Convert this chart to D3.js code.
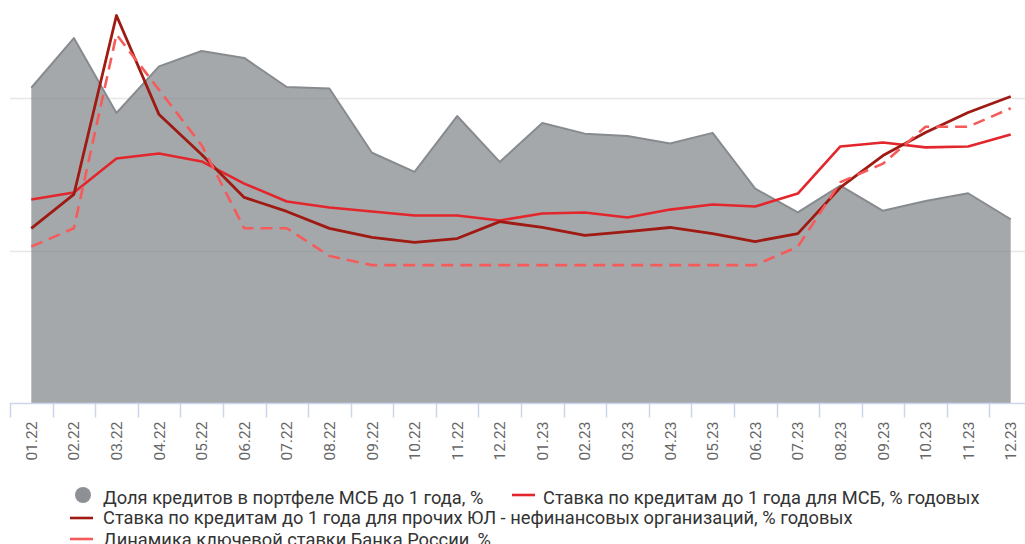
<!DOCTYPE html>
<html>
<head>
<meta charset="utf-8">
<script src="https://cdn.jsdelivr.net/npm/d3@7"></script>
<style>
  html, body { margin: 0; padding: 0; background: #fff; }
  svg { display: block; font-family: Roboto, "Noto Sans", sans-serif; }
</style>
</head>
<body>
<svg id="chart" width="1025" height="544"></svg>
<script>
// Months (MM.YY)
const months = ["01.22","02.22","03.22","04.22","05.22","06.22","07.22","08.22","09.22","10.22","11.22","12.22",
                "01.23","02.23","03.23","04.23","05.23","06.23","07.23","08.23","09.23","10.23","11.23","12.23"];

// Share of loans up to 1 year in the SME portfolio, %
const shareShort = [41.3, 47.8, 38.0, 44.1, 46.1, 45.2, 41.4, 41.2, 32.8, 30.3, 37.6, 31.6,
                    36.7, 35.3, 35.0, 34.0, 35.4, 28.1, 25.0, 28.5, 25.2, 26.5, 27.5, 24.1];

// Rate on loans up to 1 year for SMEs, % p.a.
const rateSme = [11.06, 11.44, 13.28, 13.55, 13.12, 11.92, 10.95, 10.62, 10.41, 10.19, 10.19, 9.92,
                 10.30, 10.35, 10.08, 10.51, 10.79, 10.68, 11.38, 13.93, 14.15, 13.88, 13.93, 14.58];

// Rate on loans up to 1 year for other non-financial legal entities, % p.a.
const rateOther = [9.49, 11.33, 21.03, 15.66, 13.50, 11.17, 10.41, 9.49, 9.00, 8.73, 8.94, 9.86,
                   9.54, 9.11, 9.32, 9.54, 9.21, 8.78, 9.21, 11.71, 13.44, 14.69, 15.77, 16.64];

// Bank of Russia key rate, %
const keyRate = [8.5, 9.5, 20, 17, 14, 9.5, 9.5, 8, 7.5, 7.5, 7.5, 7.5,
                 7.5, 7.5, 7.5, 7.5, 7.5, 7.5, 8.5, 12, 13, 15, 15, 16];

// Gridline values on the share axis
const shareGrid = [20, 40];

const legendLabels = [
  "Доля кредитов в портфеле МСБ до 1 года, %",
  "Ставка по кредитам до 1 года для МСБ, % годовых",
  "Ставка по кредитам до 1 года для прочих ЮЛ - нефинансовых организаций, % годовых",
  "Динамика ключевой ставки Банка России, %"
];

const colors = {
  area: "#878b8f",
  sme: "#e2262c",
  other: "#9e1a12",
  key: "#f65b5b",
  grid: "#e6e6e6",
  axis: "#ccd6eb"
};

const svg = d3.select("#chart");
const baseY = 403.5;

const x = d3.scaleBand().domain(months).range([10, 1032]).paddingInner(0).paddingOuter(0);
const cx = d => x(d) + x.bandwidth() / 2;

const yShare = d3.scaleLinear().domain([0, 40]).range([baseY, 97.7]);
const yRate = d3.scaleLinear().domain([0, 20]).range([baseY, 34.5]);

// gridlines
svg.append("g")
  .selectAll("line")
  .data(shareGrid)
  .join("line")
  .attr("x1", 10).attr("x2", 1025)
  .attr("y1", d => Math.round(yShare(d)) + 0.5)
  .attr("y2", d => Math.round(yShare(d)) + 0.5)
  .attr("stroke", colors.grid)
  .attr("stroke-width", 1.5);

// share area
const area = d3.area()
  .x((d, i) => cx(months[i]))
  .y0(baseY)
  .y1(d => yShare(d));

svg.append("path")
  .datum(shareShort)
  .attr("d", area)
  .attr("fill", colors.area)
  .attr("fill-opacity", 0.75);

svg.append("path")
  .datum(shareShort)
  .attr("d", d3.line().x((d, i) => cx(months[i])).y(d => yShare(d)))
  .attr("fill", "none")
  .attr("stroke", colors.area)
  .attr("stroke-width", 2)
  .attr("stroke-linejoin", "round");

// x axis
const xAxis = d3.axisBottom(x).tickSize(0).tickFormat(d => d);
const gx = svg.append("g").attr("transform", `translate(0,${baseY})`).call(xAxis);
gx.select(".domain").remove();
gx.selectAll(".tick text")
  .attr("transform", "translate(0,18) rotate(-90)")
  .attr("text-anchor", "end")
  .attr("x", 0).attr("y", 0)
  .attr("dy", "0.36em")
  .attr("fill", "#666666")
  .attr("font-size", "15.5px")
  .attr("font-family", "Roboto, sans-serif");

svg.append("line")
  .attr("x1", 10).attr("x2", 1025)
  .attr("y1", baseY).attr("y2", baseY)
  .attr("stroke", colors.axis).attr("stroke-width", 1.5);

// category boundary ticks
svg.append("g")
  .selectAll("line")
  .data(months)
  .join("line")
  .attr("x1", d => Math.round(x(d)) + 0.5)
  .attr("x2", d => Math.round(x(d)) + 0.5)
  .attr("y1", baseY).attr("y2", baseY + 14)
  .attr("stroke", colors.axis).attr("stroke-width", 1.5);

// rate lines
const rateLine = d3.line().x((d, i) => cx(months[i])).y(d => yRate(d));

const series = [
  { values: rateSme, color: colors.sme, width: 2.6, dash: null },
  { values: rateOther, color: colors.other, width: 2.8, dash: null },
  { values: keyRate, color: colors.key, width: 2.6, dash: "12,7" }
];

svg.append("g")
  .selectAll("path")
  .data(series)
  .join("path")
  .attr("d", s => rateLine(s.values))
  .attr("fill", "none")
  .attr("stroke", s => s.color)
  .attr("stroke-width", s => s.width)
  .attr("stroke-dasharray", s => s.dash)
  .attr("stroke-linejoin", "round");

// legend
const legend = svg.append("g")
  .attr("font-size", "18.3px")
  .attr("fill", "#333333");

const items = [
  { sym: "circle", color: colors.area, sx: 83, tx: 103, y: 495, ty: 504 },
  { sym: "line", color: colors.sme, sx: 512, tx: 543, y: 495, ty: 504 },
  { sym: "line", color: colors.other, sx: 70, tx: 103, y: 518, ty: 524 },
  { sym: "line", color: colors.key, sx: 70, tx: 103, y: 539, ty: 546 }
];

items.forEach((it, i) => {
  if (it.sym === "circle") {
    legend.append("circle")
      .attr("cx", it.sx).attr("cy", it.y).attr("r", 8)
      .attr("fill", it.color).attr("fill-opacity", 0.95);
  } else {
    legend.append("line")
      .attr("x1", it.sx).attr("x2", it.sx + 23)
      .attr("y1", it.y).attr("y2", it.y)
      .attr("stroke", it.color).attr("stroke-width", 2.6);
  }
  legend.append("text")
    .attr("x", it.tx).attr("y", it.ty)
    .text(legendLabels[i]);
});
</script>
</body>
</html>
